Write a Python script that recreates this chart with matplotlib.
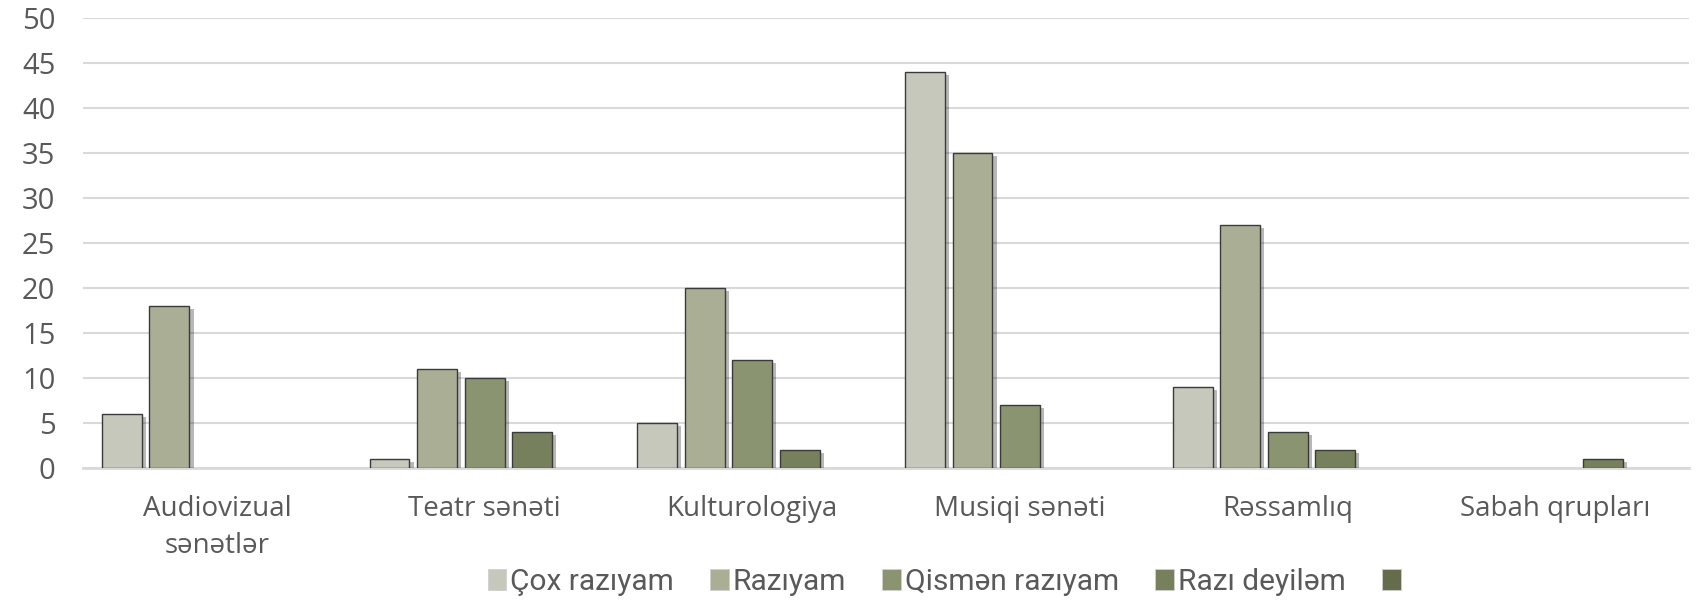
import numpy as np
import matplotlib
matplotlib.use('Agg')
import matplotlib.pyplot as plt
import matplotlib.patheffects as pe
from matplotlib.patches import Patch

categories = ["Audiovizual\nsənətlər", "Teatr sənəti", "Kulturologiya",
              "Musiqi sənəti", "Rəssamlıq", "Sabah qrupları"]
series_names = ["Çox razıyam", "Razıyam", "Qismən razıyam", "Razı deyiləm", " "]
cox_raziyam = [6, 1, 5, 44, 9, 0]
raziyam = [18, 11, 20, 35, 27, 0]
qismen_raziyam = [0, 10, 12, 7, 4, 0]
razi_deyilem = [0, 4, 2, 0, 2, 1]
unnamed = [0, 0, 0, 0, 0, 0]
yticks = [0, 5, 10, 15, 20, 25, 30, 35, 40, 45, 50]

series = [cox_raziyam, raziyam, qismen_raziyam, razi_deyilem, unnamed]
colors = ["#c6c8bb", "#a9ae95", "#8a9470", "#77805c", "#646c4c"]

plt.rcParams['font.family'] = ['Open Sans', 'DejaVu Sans']

fig = plt.figure(figsize=(16.96, 6.01), dpi=100)
ax = fig.add_axes([0.049, 0.221, 0.947, 0.749])

x = np.arange(len(categories))
slot = 0.1776
width = 0.149
shadow = [pe.SimplePatchShadow(offset=(3, -2), shadow_rgbFace='#000000', alpha=0.28),
          pe.Normal()]
for j, vals in enumerate(series):
    pos = x + (j - 2) * slot
    bars = ax.bar(pos, vals, width, color=colors[j], edgecolor='#3a3a3a',
                  linewidth=1.0, zorder=3)
    for b, v in zip(bars, vals):
        if v == 0:
            b.set_visible(False)
        else:
            b.set_path_effects(shadow)

ax.set_xlim(-0.5, len(categories) - 0.5)
ax.set_ylim(0, 50)
ax.set_yticks(yticks)
ax.set_xticks(x)
ax.set_xticklabels(categories, fontsize=20, color='#595959', linespacing=1.45)
ax.tick_params(axis='y', labelsize=21, colors='#595959', length=0, pad=20)
ax.tick_params(axis='x', length=0, pad=19)

ax.grid(axis='y', color='#d9d9d9', linewidth=1.5, zorder=0)
for s in ['top', 'right', 'left']:
    ax.spines[s].set_visible(False)
ax.spines['bottom'].set_color('#d9d9d9')
ax.spines['bottom'].set_linewidth(2)
ax.spines['bottom'].set_zorder(1)

handles = [Patch(facecolor=c, edgecolor='#d0d0d0', linewidth=0.6) for c in colors]
leg = fig.legend(handles, series_names, loc='center', bbox_to_anchor=(0.56, 0.032),
                 ncol=5, frameon=False, prop={'family': 'Roboto', 'size': 21.5},
                 handlelength=0.62, handleheight=0.73, handletextpad=0.13,
                 columnspacing=1.22, borderpad=0)
for t in leg.get_texts():
    t.set_color('#595959')

fig.savefig('out.png', dpi=100)
